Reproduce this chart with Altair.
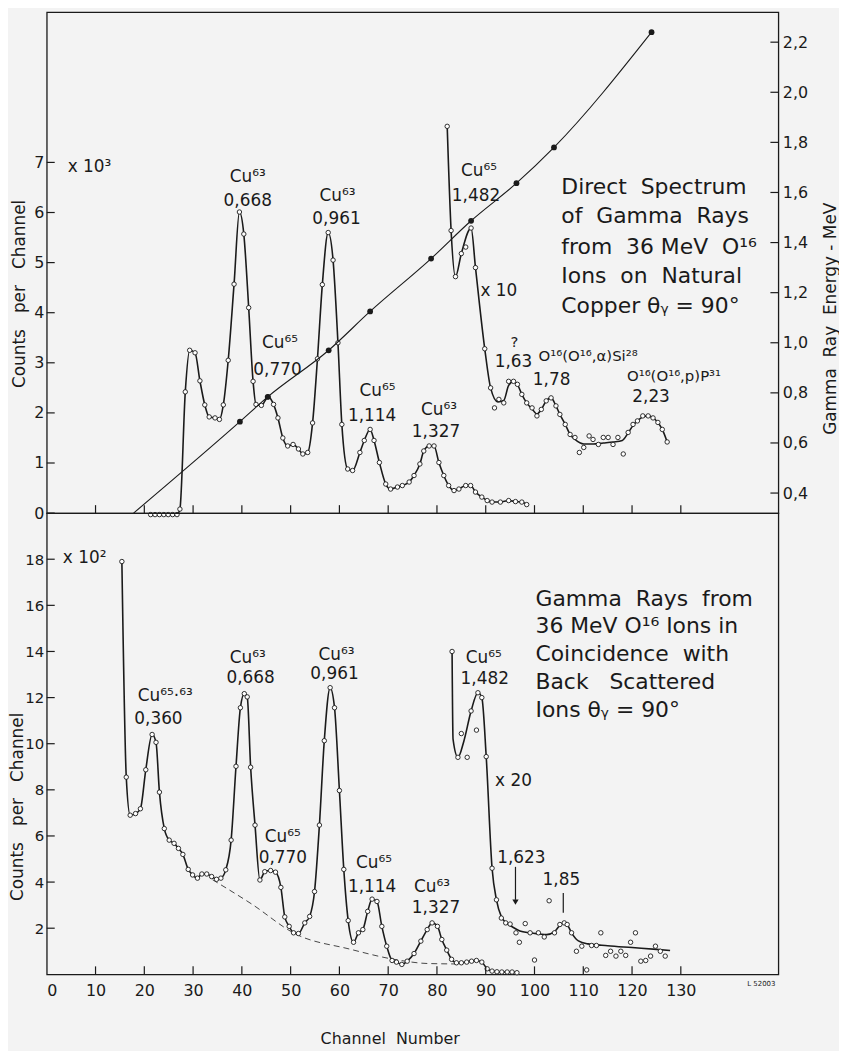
import altair as alt
import pandas as pd

FONT = "DejaVu Sans"
INK = "#1a1a1a"
BG = "#f3f3f3"
W = 736
H_TOP = 504
H_BOT = 464
NB = "\u00a0"

# ---------------- top panel: direct spectrum (counts x 10^3) ----------------
top_ch = [21.3, 22.2, 23.1, 24.0, 24.9, 25.8, 26.7, 27.3, 28.4, 29.3, 30.4, 31.4, 32.4,
          33.3, 34.5, 35.4, 36.2, 37.2, 38.4, 39.5, 40.4, 41.4, 42.3, 42.9, 44.0, 45.4,
          46.5, 47.4, 48.4, 49.4, 50.5, 51.6, 52.5, 53.5, 54.5, 55.5, 56.5, 57.7, 58.7,
          59.7, 60.5, 61.7, 62.7, 64.2, 65.1, 66.3, 67.1, 68.2, 69.5, 70.5, 71.9, 72.9,
          74.3, 75.3, 76.5, 77.3, 78.4, 79.4, 80.4, 81.4, 82.4, 83.5, 84.5, 85.9, 86.9,
          87.9, 89.2, 90.3, 91.3, 93.0, 94.7, 96.1, 97.4, 98.4]
top_val = [-0.03, -0.03, -0.03, -0.03, -0.03, -0.03, -0.03, 0.08, 2.42, 3.25, 3.2, 2.64, 2.16,
           1.92, 1.9, 1.87, 2.16, 3.05, 4.57, 6.01, 5.57, 4.1, 2.63, 2.17, 2.15, 2.32,
           2.17, 1.9, 1.5, 1.34, 1.37, 1.28, 1.18, 1.21, 1.8, 3.08, 4.56, 5.6, 5.05,
           3.4, 1.77, 0.88, 0.85, 1.21, 1.45, 1.67, 1.45, 1.01, 0.58, 0.48, 0.52, 0.55,
           0.62, 0.75, 0.98, 1.24, 1.34, 1.34, 1.01, 0.75, 0.55, 0.45, 0.48, 0.55, 0.55,
           0.42, 0.32, 0.25, 0.22, 0.22, 0.25, 0.23, 0.22, 0.17]

# x 10 part (smooth curve and measured points)
top10_curve_ch = [82.1, 82.9, 83.8, 85.0, 87.0, 87.9, 89.8, 91.0, 92.5, 93.7, 94.7, 95.7,
                  96.5, 97.4, 98.4, 99.5, 100.5, 101.4, 102.4, 103.4, 104.4, 105.2, 106.3,
                  107.3, 108.3, 110.1, 112.0, 114.1, 116.1, 118.0, 119.2, 120.2, 121.1,
                  122.2, 123.3, 124.3, 125.3, 126.2, 127.2]
top10_curve_val = [7.72, 5.64, 4.72, 5.18, 5.69, 4.9, 3.28, 2.5, 2.22, 2.25, 2.55, 2.63,
                   2.57, 2.37, 2.2, 2.08, 1.98, 2.07, 2.24, 2.3, 2.14, 1.97, 1.77,
                   1.57, 1.47, 1.38, 1.38, 1.4, 1.42, 1.45, 1.6, 1.75, 1.84,
                   1.92, 1.94, 1.9, 1.81, 1.67, 1.42]
top10_pts_ch = [82.1, 82.9, 83.8, 85.0, 85.9, 87.0, 87.9, 89.8, 91.0, 91.8, 92.7, 93.7,
                94.7, 95.7, 96.5, 97.4, 98.4, 99.5, 100.5, 101.4, 102.4, 103.4, 104.4,
                105.2, 106.3, 107.3, 108.3, 109.2, 110.1, 111.2, 112.0, 113.1, 114.1,
                115.1, 116.1, 117.1, 118.2, 119.2, 120.2, 121.1, 122.2, 123.3, 124.3,
                125.3, 126.2, 127.2]
top10_pts_val = [7.72, 5.64, 4.72, 5.18, 5.31, 5.69, 4.9, 3.28, 2.5, 2.1, 2.27, 2.2,
                 2.63, 2.63, 2.57, 2.37, 2.2, 2.1, 1.94, 2.07, 2.24, 2.3, 2.14,
                 1.97, 1.77, 1.57, 1.51, 1.21, 1.31, 1.54, 1.47, 1.37, 1.51,
                 1.51, 1.37, 1.51, 1.18, 1.61, 1.77, 1.84, 1.94, 1.94, 1.9,
                 1.81, 1.67, 1.42]

# energy calibration (right axis, MeV)
cal_ch = [39.6, 45.3, 57.8, 66.3, 78.8, 87.0, 96.3, 104.0, 124.0]
cal_mev = [0.685, 0.784, 0.97, 1.125, 1.336, 1.487, 1.637, 1.78, 2.24]
cal_start_ch = 17.8
cal_start_mev = 0.32

# ---------------- bottom panel: coincidence spectrum (counts x 10^2) ----------------
bot_ch = [15.4, 16.3, 17.1, 18.2, 19.2, 20.3, 21.6, 22.4, 23.1, 24.1, 25.1, 26.1, 27.0,
          27.9, 29.0, 29.9, 30.9, 31.8, 32.8, 33.8, 34.8, 35.7, 36.7, 37.8, 38.8, 39.7,
          40.5, 41.1, 41.8, 42.7, 43.7, 44.7, 45.9, 46.9, 48.0, 48.8, 49.7, 50.6, 51.6,
          52.9, 53.9, 54.9, 55.9, 56.9, 58.1, 59.0, 60.0, 60.9, 61.8, 62.9, 63.9, 64.8,
          65.8, 66.7, 67.7, 68.7, 69.7, 70.8, 71.7, 72.8, 73.9, 75.3, 76.7, 78.0, 79.0,
          80.1, 81.0, 82.0, 83.0, 84.0, 85.0, 86.1, 87.1, 88.1, 89.2, 90.3, 91.3, 92.3,
          93.3, 94.4, 95.4, 96.4]
bot_val = [17.9, 8.55, 6.9, 6.97, 7.18, 8.87, 10.4, 10.06, 7.9, 6.32, 5.82, 5.68, 5.46,
           5.2, 4.55, 4.31, 4.17, 4.35, 4.35, 4.24, 4.12, 4.17, 4.53, 5.82, 9.02, 11.56,
           12.17, 12.03, 8.98, 6.47, 4.09, 4.45, 4.5, 4.43, 3.77, 2.49, 2.08, 1.8, 1.77,
           2.23, 2.51, 3.59, 6.47, 10.13, 12.43, 11.56, 7.97, 4.55, 2.33, 1.39, 1.8, 1.94,
           2.73, 3.26, 3.16, 2.08, 1.22, 0.6, 0.53, 0.43, 0.57, 0.9, 1.44, 1.94, 2.23,
           2.08, 1.51, 1.05, 0.65, 0.5, 0.5, 0.53, 0.57, 0.6, 0.53, 0.24, 0.14, 0.11,
           0.1, 0.1, 0.1, 0.07]

bot20_curve_ch = [83.1, 83.3, 84.3, 85.5, 87.0, 88.4, 89.2, 90.1, 91.3, 92.2, 93.2, 94.1,
                  95.5, 97.0, 99.0, 101.0, 102.5, 104.1, 105.2, 106.1, 106.7, 107.6,
                  109.0, 111.0, 115.0, 120.0, 125.0, 127.8]
bot20_curve_val = [14.0, 10.2, 9.41, 10.1, 11.42, 12.21, 12.0, 9.44, 4.6, 3.23, 2.5, 2.25,
                   2.05, 1.88, 1.8, 1.75, 1.72, 1.85, 2.12, 2.23, 2.16, 1.8,
                   1.45, 1.32, 1.24, 1.16, 1.08, 1.03]
bot20_pts_ch = [83.1, 84.3, 85.0, 86.2, 87.0, 88.1, 88.4, 89.2, 90.1, 91.3, 92.2, 93.2,
                94.1, 95.0, 96.2, 96.9, 98.1, 99.1, 100.0, 100.8, 102.0, 103.0, 104.1,
                105.2, 106.1, 106.7, 107.6, 108.6, 109.7, 110.7, 111.7, 112.7, 113.6,
                114.6, 115.6, 116.7, 117.7, 118.7, 119.7, 120.7, 121.8, 122.8, 123.8,
                124.8, 125.8, 126.8]
bot20_pts_val = [14.0, 9.41, 10.44, 9.41, 11.42, 10.59, 12.21, 12.0, 9.44, 4.6, 3.23, 2.44,
                 2.23, 2.18, 1.8, 1.39, 2.2, 1.8, 0.62, 1.8, 1.62, 3.19, 1.8,
                 2.16, 2.23, 2.16, 1.8, 1.0, 1.22, 0.19, 1.25, 1.25, 1.8,
                 0.82, 1.0, 0.79, 1.0, 0.82, 1.39, 1.8, 0.57, 0.6, 0.79,
                 1.22, 1.0, 0.79]

# dashed background estimate under the peaks
base_ch = [34, 42, 51, 62, 72, 78, 84]
base_val = [4.1, 3.05, 1.75, 1.1, 0.62, 0.47, 0.45]

# ---------------- ticks ----------------
x_ticks = [10, 20, 30, 40, 50, 60, 70, 80, 90, 100, 110, 120, 130]
x_labels = [0, 10, 20, 30, 40, 50, 60, 70, 80, 90, 100, 110, 120, 130]
top_y_ticks = [0, 1, 2, 3, 4, 5, 6, 7]
bot_y_ticks = [2, 4, 6, 8, 10, 12, 14, 16, 18]
energy_ticks = [0.4, 0.6, 0.8, 1.0, 1.2, 1.4, 1.6, 1.8, 2.0, 2.2]

# ---------------- annotations (text, channel, value) ----------------
top_labels = [
    ("Cu\u2076\u00b3", 41.2, 6.71), ("0,668", 41.2, 6.23),
    ("Cu\u2076\u00b3", 59.6, 6.33), ("0,961", 59.4, 5.87),
    ("Cu\u2076\u2075", 47.8, 3.39), ("0,770", 47.3, 2.86),
    ("Cu\u2076\u2075", 67.8, 2.44), ("1,114", 66.7, 1.94),
    ("Cu\u2076\u00b3", 80.4, 2.06), ("1,327", 79.8, 1.61),
    ("Cu\u2076\u2075", 88.6, 6.83), ("1,482", 88.0, 6.33),
    ("x 10", 92.7, 4.44),
    ("1,63", 95.7, 3.02), ("1,78", 103.5, 2.66), ("2,23", 123.9, 2.32),
]
top_small = [
    ("?", 95.9, 3.42),
    ("O\u00b9\u2076(O\u00b9\u2076,\u03b1)Si\u00b2\u2078", 111.0, 3.14),
    ("O\u00b9\u2076(O\u00b9\u2076,p)P\u00b3\u00b9", 128.6, 2.74),
]
top_factor = ("x 10\u00b3", 4.3, 6.9)
top_block = ["Direct " + NB + "Spectrum", "of " + NB + "Gamma " + NB + "Rays",
             "from " + NB + "36 MeV " + NB + "O\u00b9\u2076",
             "Ions " + NB + "on " + NB + "Natural", "Copper  \u03b8\u1d67 = 90\u00b0"]
top_block_ch = 105.5
top_block_val = [6.51, 5.92, 5.32, 4.73, 4.13]

bot_labels = [
    ("Cu\u2076\u2075\u00b7\u2076\u00b3", 24.3, 12.07), ("0,360", 22.9, 11.08),
    ("Cu\u2076\u00b3", 41.2, 13.7), ("0,668", 41.8, 12.84),
    ("Cu\u2076\u00b3", 59.4, 13.84), ("0,961", 59.0, 13.02),
    ("Cu\u2076\u2075", 48.4, 5.95), ("0,770", 48.4, 5.04),
    ("Cu\u2076\u2075", 67.1, 4.83), ("1,114", 66.7, 3.79),
    ("Cu\u2076\u00b3", 79.0, 3.79), ("1,327", 79.8, 2.89),
    ("Cu\u2076\u2075", 89.6, 13.7), ("1,482", 89.8, 12.8),
    ("x 20", 95.7, 8.4),
    ("1,623", 97.3, 5.04), ("1,85", 105.5, 4.09),
]
bot_factor = ("x 10\u00b2", 3.3, 18.06)
bot_block = ["Gamma " + NB + "Rays " + NB + "from", "36 MeV  O\u00b9\u2076 Ions  in",
             "Coincidence " + NB + "with", "Back " + NB + NB + "Scattered",
             "Ions  \u03b8\u1d67 = 90\u00b0"]
bot_block_ch = 100.2
bot_block_val = [16.29, 15.09, 13.88, 12.67, 11.46]
arrow_ch, arrow_top, arrow_tip = 96.1, 4.66, 2.93
mark185_ch, mark185_top, mark185_bot = 105.9, 3.53, 2.67
fig_code = ("L 52003", 146.5, -0.4)

# ---------------- scales & axes ----------------
xs = alt.Scale(domain=[0, 150], nice=False, zero=False)
ys_top = alt.Scale(domain=[0, 10], nice=False, zero=False)
ys_e = alt.Scale(domain=[0.32, 2.32], nice=False, zero=False)
ys_bot = alt.Scale(domain=[0, 20], nice=False, zero=False)

common_ax = dict(grid=False, domain=False, ticks=False, tickSize=0,
                 labelFont=FONT, titleFont=FONT, labelColor=INK, titleColor=INK,
                 titleFontWeight="normal")

y_title = "Counts" + NB * 2 + " per" + NB * 2 + " Channel"
top_axis = alt.Axis(values=top_y_ticks, title=y_title, labelFontSize=16,
                    titleFontSize=17, labelPadding=3, titleAngle=270, titleX=-22,
                    titleY=283, titleBaseline="alphabetic", **common_ax)
bot_axis = alt.Axis(values=bot_y_ticks, title=y_title, labelFontSize=15,
                    titleFontSize=17, labelPadding=3, titleAngle=270, titleX=-24,
                    titleY=295, titleBaseline="alphabetic", **common_ax)
e_axis = alt.Axis(orient="right", values=energy_ticks,
                  labelExpr="replace(format(datum.value, '.1f'), '.', ',')",
                  title="Gamma" + NB + " Ray" + NB + " Energy - MeV",
                  labelFontSize=16, titleFontSize=17,
                  labelPadding=4, titleAngle=270, titleX=57, titleY=308,
                  titleBaseline="alphabetic", **common_ax)
x_axis = alt.Axis(values=x_labels, title="Channel" + NB + " Number", labelFontSize=16,
                  titleFontSize=16, labelPadding=8, titleX=345, titleY=70,
                  titleBaseline="alphabetic", labelAngle=0, **common_ax)


def df(**cols):
    return pd.DataFrame(cols)


def curve_layer(ch, val, yenc_fn, xax):
    d = df(ch=ch, v=val)
    return alt.Chart(d).mark_line(color=INK, strokeWidth=1.6, interpolate="monotone").encode(
        x=alt.X("ch:Q", scale=xs, axis=xax), y=yenc_fn("v:Q"))


def points_layer(ch, val, yenc_fn, xax):
    d = df(ch=ch, v=val)
    return alt.Chart(d).mark_point(shape="circle", filled=True, fill="white", stroke=INK,
                                   strokeWidth=0.9, size=20, opacity=1).encode(
        x=alt.X("ch:Q", scale=xs, axis=xax), y=yenc_fn("v:Q"))


def text_layer(items, yenc_fn, xax, size=17, align="center"):
    d = pd.DataFrame(items, columns=["t", "ch", "v"])
    return alt.Chart(d).mark_text(font=FONT, fontSize=size, color=INK, align=align,
                                  baseline="middle").encode(
        x=alt.X("ch:Q", scale=xs, axis=xax), y=yenc_fn("v:Q"), text="t:N")


ytop = lambda f: alt.Y(f, scale=ys_top, axis=top_axis)
ybot = lambda f: alt.Y(f, scale=ys_bot, axis=bot_axis)
ye = lambda f: alt.Y(f, scale=ys_e, axis=e_axis)

# ---------------- top chart ----------------
top_layers = [
    curve_layer(top_ch, top_val, ytop, None),
    points_layer(top_ch, top_val, ytop, None),
    curve_layer(top10_curve_ch, top10_curve_val, ytop, None),
    points_layer(top10_pts_ch, top10_pts_val, ytop, None),
    alt.Chart(df(t=x_ticks)).mark_rule(color=INK, strokeWidth=1.2).encode(
        x=alt.X("t:Q", scale=xs, axis=None), y=alt.value(H_TOP), y2=alt.value(H_TOP - 8)),
    alt.Chart(df(t=top_y_ticks)).mark_rule(color=INK, strokeWidth=1.2).encode(
        y=ytop("t:Q"), x=alt.value(0), x2=alt.value(8)),
    text_layer(top_labels, ytop, None, 17),
    text_layer(top_small, ytop, None, 15),
    text_layer([top_factor], ytop, None, 17, "left"),
    text_layer(list(zip(top_block, [top_block_ch] * 5, top_block_val)), ytop, None, 22, "left"),
]
counts_top = alt.layer(*top_layers)

e_line = alt.Chart(df(ch=[cal_start_ch] + cal_ch, e=[cal_start_mev] + cal_mev)).mark_line(
    color=INK, strokeWidth=1.1, interpolate="monotone").encode(
    x=alt.X("ch:Q", scale=xs, axis=None), y=ye("e:Q"))
e_dots = alt.Chart(df(ch=cal_ch, e=cal_mev)).mark_point(
    shape="circle", filled=True, color=INK, size=34, opacity=1).encode(
    x=alt.X("ch:Q", scale=xs, axis=None), y=ye("e:Q"))
e_ticks = alt.Chart(df(t=energy_ticks)).mark_rule(color=INK, strokeWidth=1.2).encode(
    y=ye("t:Q"), x=alt.value(W - 8), x2=alt.value(W))
energy_top = alt.layer(e_line, e_dots, e_ticks)

top = alt.layer(counts_top, energy_top).resolve_scale(y="independent").properties(
    width=W, height=H_TOP)

# ---------------- bottom chart ----------------
base_df = df(ch=base_ch, v=base_val)
bot_layers = [
    alt.Chart(base_df).mark_line(color="#333333", strokeWidth=0.9, strokeDash=[6, 4],
                                 interpolate="monotone").encode(
        x=alt.X("ch:Q", scale=xs, axis=x_axis), y=ybot("v:Q")),
    curve_layer(bot_ch, bot_val, ybot, x_axis),
    points_layer(bot_ch, bot_val, ybot, x_axis),
    curve_layer(bot20_curve_ch, bot20_curve_val, ybot, x_axis),
    points_layer(bot20_pts_ch, bot20_pts_val, ybot, x_axis),
    alt.Chart(df(t=x_ticks)).mark_rule(color=INK, strokeWidth=1.2).encode(
        x=alt.X("t:Q", scale=xs, axis=x_axis), y=alt.value(H_BOT), y2=alt.value(H_BOT - 8)),
    alt.Chart(df(t=bot_y_ticks)).mark_rule(color=INK, strokeWidth=1.2).encode(
        y=ybot("t:Q"), x=alt.value(0), x2=alt.value(8)),
    alt.Chart(df(ch=[arrow_ch], a=[arrow_top], b=[arrow_tip + 0.3])).mark_rule(
        color=INK, strokeWidth=1.2).encode(
        x=alt.X("ch:Q", scale=xs, axis=x_axis), y=ybot("a:Q"), y2="b:Q"),
    alt.Chart(df(ch=[arrow_ch], v=[arrow_tip + 0.2])).mark_point(
        shape="triangle-down", filled=True, color=INK, size=40, opacity=1).encode(
        x=alt.X("ch:Q", scale=xs, axis=x_axis), y=ybot("v:Q")),
    alt.Chart(df(ch=[mark185_ch], a=[mark185_top], b=[mark185_bot])).mark_rule(
        color=INK, strokeWidth=1.2).encode(
        x=alt.X("ch:Q", scale=xs, axis=x_axis), y=ybot("a:Q"), y2="b:Q"),
    text_layer(bot_labels, ybot, x_axis, 17),
    text_layer([bot_factor], ybot, x_axis, 17, "left"),
    text_layer(list(zip(bot_block, [bot_block_ch] * 5, bot_block_val)), ybot, x_axis, 22, "left"),
    text_layer([fig_code], ybot, x_axis, 7),
]
bottom = alt.layer(*bot_layers).properties(width=W, height=H_BOT)

chart = alt.vconcat(top, bottom, spacing=0, bounds="flush").properties(
    padding=0, background=BG
).configure_view(stroke=INK, strokeWidth=1.3).configure_concat(spacing=0)

chart.save("out.html", embed_options={"renderer": "svg", "actions": False})
